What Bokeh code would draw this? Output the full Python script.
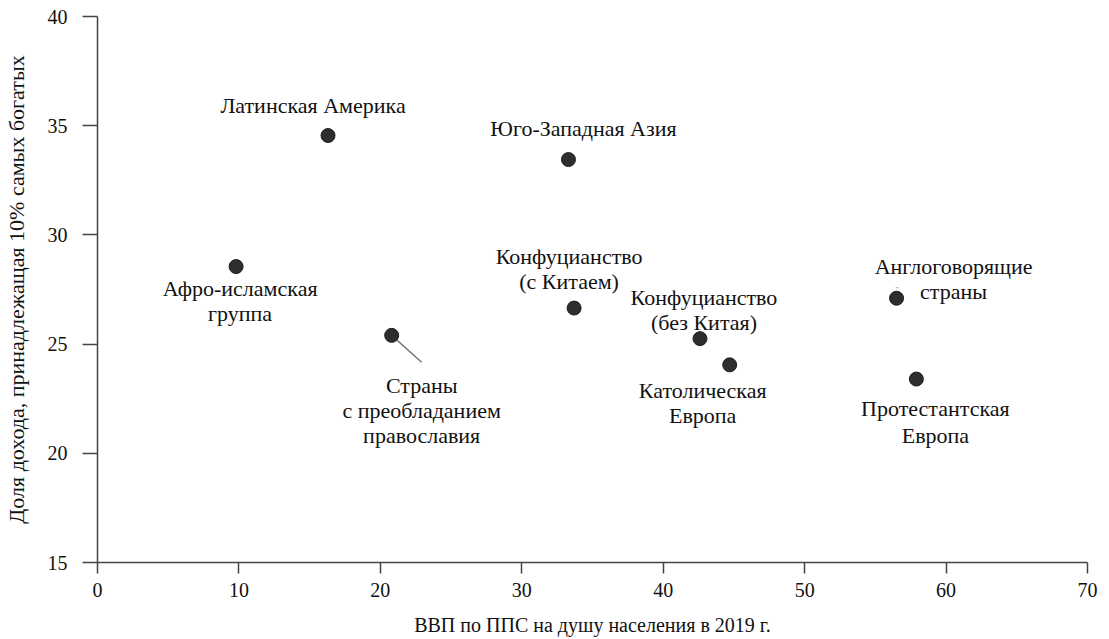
from bokeh.plotting import figure
from bokeh.models import Range1d, ColumnDataSource, FixedTicker, LabelSet
from bokeh.embed import file_html
from bokeh.resources import INLINE

# ---- data ----
groups = [
    "Латинская Америка",
    "Юго-Западная Азия",
    "Афро-исламская\nгруппа",
    "Страны\nс преобладанием\nправославия",
    "Конфуцианство\n(с Китаем)",
    "Конфуцианство\n(без Китая)",
    "Католическая\nЕвропа",
    "Англоговорящие\nстраны",
    "Протестантская\nЕвропа",
]
gdp = [16.3, 33.3, 9.8, 20.8, 33.7, 42.6, 44.7, 56.5, 57.9]
top10_share = [34.55, 33.45, 28.55, 25.4, 26.65, 25.25, 24.05, 27.1, 23.4]
x_ticks = [0, 10, 20, 30, 40, 50, 60, 70]
y_ticks = [15, 20, 25, 30, 35, 40]
x_title = "ВВП по ППС на душу населения в 2019 г."
y_title = "Доля дохода, принадлежащая 10% самых богатых"

# ---- layout (pixel offsets, screen-down, of label line centers from points) ----
label_dx = [-15, 15, 4, 30, -5, 4, -27, 57, 19]
label_dy = [-30, -31, 22, 50, -52, -41, 26, -32, 29]
line_gap = [25, 25, 25, 25, 25, 25, 25, 25, 27]

FONT = "Liberation Serif"
AX = "#444444"
TXT = "#111111"

p = figure(width=1101, height=638, output_backend="svg", toolbar_location=None,
           x_range=Range1d(0, 70), y_range=Range1d(15, 40),
           min_border_left=95, min_border_right=14, min_border_top=16, min_border_bottom=75)
p.outline_line_color = None
p.xgrid.visible = False
p.ygrid.visible = False

for ax, ticks in ((p.xaxis, x_ticks), (p.yaxis, y_ticks)):
    ax.ticker = FixedTicker(ticks=ticks)
    ax.axis_line_color = AX
    ax.axis_line_width = 1.5
    ax.major_tick_line_color = AX
    ax.major_tick_line_width = 1.5
    ax.major_tick_in = 0
    ax.minor_tick_line_color = None
    ax.major_label_text_font = FONT
    ax.major_label_text_font_size = "20px"
    ax.major_label_text_color = TXT
    ax.axis_label_text_font = FONT
    ax.axis_label_text_font_style = "normal"
    ax.axis_label_text_color = TXT

p.xaxis.major_tick_out = 11
p.yaxis.major_tick_out = 15
p.xaxis.axis_label = x_title
p.yaxis.axis_label = y_title
p.xaxis.axis_label_text_font_size = "20px"
p.yaxis.axis_label_text_font_size = "22px"
p.xaxis.major_label_standoff = 9
p.yaxis.major_label_standoff = 15
p.xaxis.axis_label_standoff = 14
p.yaxis.axis_label_standoff = 16

# pixel -> data unit conversions for leader lines
ux = 70 / 992.0
uy = 25 / 547.0
i_orth = 3
p.segment(x0=[gdp[i_orth]], y0=[top10_share[i_orth]],
          x1=[gdp[i_orth] + 30 * ux], y1=[top10_share[i_orth] - 27 * uy],
          line_color="#777777", line_width=1.5)
i_ang = 7
p.segment(x0=[gdp[i_ang] - 1 * ux], y0=[top10_share[i_ang] + 10.5 * uy],
          x1=[gdp[i_ang] + 2 * ux], y1=[top10_share[i_ang] + 10.5 * uy],
          line_color="#aaaaaa", line_width=1)

p.scatter(gdp, top10_share, size=14, fill_color="#2e2e2e", line_color="#1e1e1e", line_width=1)

rows = dict(x=[], y=[], t=[], xo=[], yo=[])
for i, lab in enumerate(groups):
    for j, line in enumerate(lab.split("\n")):
        rows["x"].append(gdp[i])
        rows["y"].append(top10_share[i])
        rows["t"].append(line)
        rows["xo"].append(label_dx[i])
        rows["yo"].append(-(label_dy[i] + j * line_gap[i]))
src = ColumnDataSource(rows)
labels = LabelSet(x="x", y="y", text="t", x_offset="xo", y_offset="yo", source=src,
                  text_font=FONT, text_font_size="22px", text_color=TXT,
                  text_align="center", text_baseline="middle")
p.add_layout(labels)

open("out.html", "w").write(file_html(p, INLINE))
